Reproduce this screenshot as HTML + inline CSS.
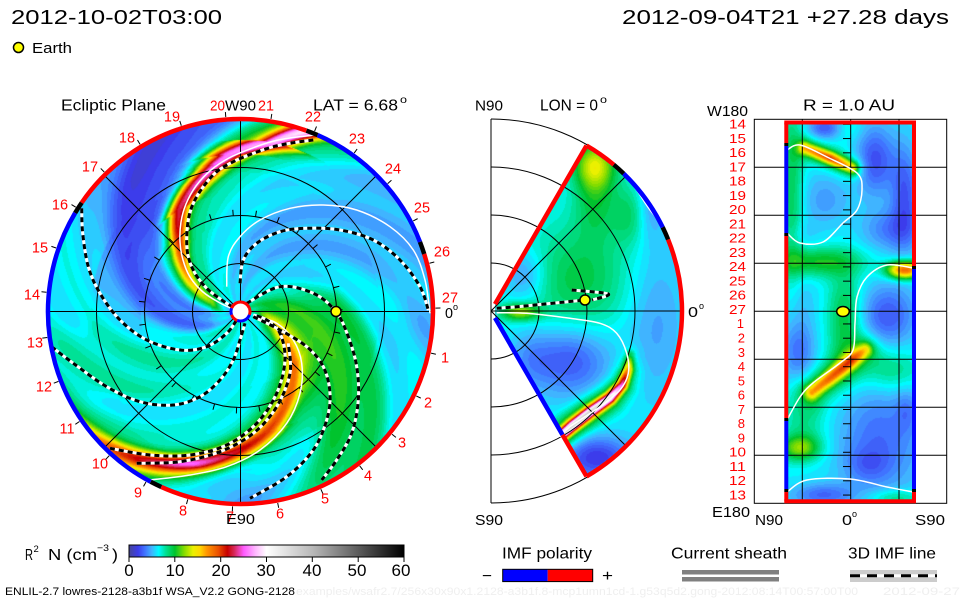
<!DOCTYPE html>
<html><head><meta charset="utf-8">
<style>
html,body{margin:0;padding:0;background:#fff;width:960px;height:600px;overflow:hidden}
.l{position:absolute;left:0;top:0}
text{font-family:"Liberation Sans",sans-serif}
</style></head><body>
<svg class="l" width="960" height="600">
<circle cx="240.5" cy="311.5" r="192" fill="#2ad4f0"/>
<path d="M495,304.1L586.5,145.6A191,191 0 0 1 586.5,476.4L495,317.9Z" fill="#30d8d8"/>
<rect x="786" y="122" width="128" height="380" fill="#30d0d0"/>
</svg>
<canvas class="l" id="cv" width="960" height="600"></canvas>
<svg class="l" id="ov" width="960" height="600">
<defs>
<linearGradient id="cb" x1="0" x2="1" y1="0" y2="0">
<stop offset="0" stop-color="#464696"/><stop offset="0.033" stop-color="#3c3ceb"/><stop offset="0.058" stop-color="#4073ff"/><stop offset="0.083" stop-color="#40b4ff"/><stop offset="0.108" stop-color="#00faff"/><stop offset="0.133" stop-color="#00e196"/><stop offset="0.167" stop-color="#00c32d"/><stop offset="0.2" stop-color="#82dc00"/><stop offset="0.233" stop-color="#ebf000"/><stop offset="0.258" stop-color="#ffd700"/><stop offset="0.283" stop-color="#ff9600"/><stop offset="0.325" stop-color="#eb5000"/><stop offset="0.358" stop-color="#c80000"/><stop offset="0.383" stop-color="#d7285a"/><stop offset="0.417" stop-color="#ff5aff"/><stop offset="0.458" stop-color="#ffb4ff"/><stop offset="0.5" stop-color="#ffffff"/><stop offset="0.667" stop-color="#b8b8b8"/><stop offset="1" stop-color="#000000"/>
</linearGradient>
</defs>
<g id="geo"></g>
<!-- Earth markers -->
<circle cx="336" cy="311.5" r="5" fill="#ffff00" stroke="#000" stroke-width="1.5"/>
<circle cx="585" cy="300" r="5" fill="#ffff00" stroke="#000" stroke-width="1.5"/>
<ellipse cx="843" cy="311.5" rx="6.3" ry="5" fill="#ffff00" stroke="#000" stroke-width="1.5"/>

<!-- headers -->
<text x="11" y="24" font-size="20.5" textLength="211" lengthAdjust="spacingAndGlyphs">2012-10-02T03:00</text>
<text x="622" y="24" font-size="20.5" textLength="327" lengthAdjust="spacingAndGlyphs">2012-09-04T21 +27.28 days</text>
<circle cx="18.5" cy="47.5" r="5" fill="#ffff00" stroke="#000" stroke-width="1.5"/>
<text x="32" y="53" font-size="15" textLength="40" lengthAdjust="spacingAndGlyphs">Earth</text>

<!-- left panel labels -->
<text x="61" y="110.5" font-size="15.5" textLength="105" lengthAdjust="spacingAndGlyphs">Ecliptic Plane</text>
<text x="210" y="110.5" font-size="14.5" fill="#ff0000" textLength="15" lengthAdjust="spacingAndGlyphs">20</text>
<text x="225" y="110.5" font-size="15" textLength="31" lengthAdjust="spacingAndGlyphs">W90</text>
<text x="258" y="110.5" font-size="14.5" fill="#ff0000" textLength="16" lengthAdjust="spacingAndGlyphs">21</text>
<text x="313" y="110.5" font-size="15.5" textLength="85" lengthAdjust="spacingAndGlyphs">LAT = 6.68</text>
<text x="400" y="103" font-size="10" textLength="7" lengthAdjust="spacingAndGlyphs">o</text>
<g font-size="14.5" fill="#ff0000" text-anchor="middle">
<text x="450" y="302.5">27</text><text x="445" y="362.5">1</text><text x="428" y="407.5">2</text><text x="402" y="447.5">3</text><text x="368" y="480.5">4</text><text x="325" y="503.5">5</text><text x="280" y="518.5">6</text><text x="230" y="521.5">7</text><text x="183" y="515.5">8</text><text x="138" y="497.5">9</text><text x="100" y="468.5">10</text><text x="67" y="433.5">11</text><text x="44" y="391.5">12</text><text x="35" y="347.5">13</text><text x="32" y="299.5">14</text><text x="40" y="252.5">15</text><text x="60" y="209.5">16</text><text x="90" y="171.5">17</text><text x="127" y="142.5">18</text><text x="172" y="121.5">19</text><text x="313" y="121.5">22</text><text x="357" y="143.5">23</text><text x="393" y="173.5">24</text><text x="422" y="212.5">25</text><text x="442" y="256.5">26</text>
</g>
<text x="445" y="318" font-size="14.5" textLength="8" lengthAdjust="spacingAndGlyphs">0</text>
<text x="453" y="310" font-size="9">o</text>
<text x="226" y="524" font-size="15" textLength="29" lengthAdjust="spacingAndGlyphs">E90</text>

<!-- middle panel labels -->
<text x="475" y="110.5" font-size="15" textLength="28" lengthAdjust="spacingAndGlyphs">N90</text>
<text x="540" y="110.5" font-size="15.5" textLength="58" lengthAdjust="spacingAndGlyphs">LON = 0</text>
<text x="600" y="103" font-size="10" textLength="7" lengthAdjust="spacingAndGlyphs">o</text>
<text x="688" y="317" font-size="15" textLength="10" lengthAdjust="spacingAndGlyphs">0</text>
<text x="699" y="309" font-size="9">o</text>
<text x="475" y="525" font-size="15" textLength="28" lengthAdjust="spacingAndGlyphs">S90</text>

<!-- right panel labels -->
<text x="803" y="110.5" font-size="15.5" textLength="92" lengthAdjust="spacingAndGlyphs">R = 1.0 AU</text>
<text x="707" y="116" font-size="15" textLength="41" lengthAdjust="spacingAndGlyphs">W180</text>
<text x="712" y="517" font-size="15" textLength="38" lengthAdjust="spacingAndGlyphs">E180</text>
<text x="755" y="525" font-size="15" textLength="28" lengthAdjust="spacingAndGlyphs">N90</text>
<text x="842" y="525" font-size="15" textLength="10" lengthAdjust="spacingAndGlyphs">0</text>
<text x="852" y="517" font-size="9">o</text>
<text x="915" y="525" font-size="15" textLength="30" lengthAdjust="spacingAndGlyphs">S90</text>
<g font-size="13" fill="#ff0000" text-anchor="end">
<text x="746" y="128.6" textLength="17" lengthAdjust="spacingAndGlyphs">14</text>
<text x="746" y="142.9" textLength="17" lengthAdjust="spacingAndGlyphs">15</text>
<text x="746" y="157.1" textLength="17" lengthAdjust="spacingAndGlyphs">16</text>
<text x="746" y="171.4" textLength="17" lengthAdjust="spacingAndGlyphs">17</text>
<text x="746" y="185.6" textLength="17" lengthAdjust="spacingAndGlyphs">18</text>
<text x="746" y="199.9" textLength="17" lengthAdjust="spacingAndGlyphs">19</text>
<text x="746" y="214.2" textLength="17" lengthAdjust="spacingAndGlyphs">20</text>
<text x="746" y="228.4" textLength="17" lengthAdjust="spacingAndGlyphs">21</text>
<text x="746" y="242.7" textLength="17" lengthAdjust="spacingAndGlyphs">22</text>
<text x="746" y="256.9" textLength="17" lengthAdjust="spacingAndGlyphs">23</text>
<text x="746" y="271.2" textLength="17" lengthAdjust="spacingAndGlyphs">24</text>
<text x="746" y="285.5" textLength="17" lengthAdjust="spacingAndGlyphs">25</text>
<text x="746" y="299.7" textLength="17" lengthAdjust="spacingAndGlyphs">26</text>
<text x="746" y="314.0" textLength="17" lengthAdjust="spacingAndGlyphs">27</text>
<text x="744" y="328.2">1</text>
<text x="745" y="342.5">2</text>
<text x="745" y="356.8">3</text>
<text x="745" y="371.0">4</text>
<text x="745" y="385.3">5</text>
<text x="745" y="399.5">6</text>
<text x="745" y="413.8">7</text>
<text x="745" y="428.1">8</text>
<text x="745" y="442.3">9</text>
<text x="746" y="456.6" textLength="17" lengthAdjust="spacingAndGlyphs">10</text>
<text x="746" y="470.8" textLength="17" lengthAdjust="spacingAndGlyphs">11</text>
<text x="746" y="485.1" textLength="17" lengthAdjust="spacingAndGlyphs">12</text>
<text x="746" y="499.4" textLength="17" lengthAdjust="spacingAndGlyphs">13</text>
</g>

<!-- colorbar legend -->
<text x="25" y="560" font-size="16" textLength="8" lengthAdjust="spacingAndGlyphs">R</text>
<text x="33.5" y="552" font-size="9.5">2</text>
<text x="48" y="560" font-size="16" textLength="49" lengthAdjust="spacingAndGlyphs">N (cm</text>
<text x="97" y="551" font-size="9.5" textLength="12" lengthAdjust="spacingAndGlyphs">−3</text>
<text x="112" y="560" font-size="16" textLength="6" lengthAdjust="spacingAndGlyphs">)</text>
<rect x="129" y="545" width="275" height="12" fill="url(#cb)" stroke="#000" stroke-width="1"/>
<g stroke="#000" stroke-width="1">
<line x1="129" y1="557" x2="129" y2="562"/><line x1="174.8" y1="557" x2="174.8" y2="562"/><line x1="220.7" y1="557" x2="220.7" y2="562"/><line x1="266.5" y1="557" x2="266.5" y2="562"/><line x1="312.3" y1="557" x2="312.3" y2="562"/><line x1="358.2" y1="557" x2="358.2" y2="562"/><line x1="404" y1="557" x2="404" y2="562"/>
</g>
<g font-size="17" text-anchor="middle">
<text x="129" y="576">0</text><text x="175" y="576">10</text><text x="221" y="576">20</text><text x="266" y="576">30</text><text x="312" y="576">40</text><text x="357" y="576">50</text><text x="401" y="576">60</text>
</g>
<text x="5" y="595" font-size="11" textLength="290" lengthAdjust="spacingAndGlyphs">ENLIL-2.7 lowres-2128-a3b1f WSA_V2.2 GONG-2128</text>
<text x="296" y="595" font-size="11" fill="#efefef" textLength="562" lengthAdjust="spacingAndGlyphs">examples/wsafr2.7/256x30x90x1.2128-a3b1f.8-mcp1umn1cd-1.g53q5d2.gong-2012:08:14T00:57:00T00</text>
<text x="883" y="595" font-size="11" fill="#efefef" textLength="77" lengthAdjust="spacingAndGlyphs">2012-09-27</text>

<!-- IMF polarity -->
<text x="502" y="558.5" font-size="16" textLength="90" lengthAdjust="spacingAndGlyphs">IMF polarity</text>
<rect x="502.7" y="569.3" width="45" height="12.3" fill="#0000ff"/>
<rect x="547.7" y="569.3" width="45" height="12.3" fill="#ff0000"/>
<rect x="502.7" y="569.3" width="90" height="12.3" fill="none" stroke="#000" stroke-width="1"/>
<text x="482" y="581" font-size="16" textLength="10" lengthAdjust="spacingAndGlyphs">−</text>
<text x="602" y="581" font-size="16" textLength="11" lengthAdjust="spacingAndGlyphs">+</text>

<!-- Current sheath -->
<text x="671" y="558.5" font-size="16" textLength="116" lengthAdjust="spacingAndGlyphs">Current sheath</text>
<rect x="682" y="570" width="97" height="4.5" fill="#808080"/>
<rect x="682" y="577" width="97" height="4.5" fill="#808080"/>

<!-- 3D IMF line -->
<text x="848" y="558.5" font-size="16" textLength="88" lengthAdjust="spacingAndGlyphs">3D IMF line</text>
<rect x="850" y="570" width="87" height="12" fill="#cccccc"/>
<line x1="850" y1="575.8" x2="937" y2="575.8" stroke="#fff" stroke-width="3"/>
<line x1="850" y1="575.8" x2="937" y2="575.8" stroke="#000" stroke-width="3" stroke-dasharray="10 7"/>
</svg>

<script>
(function(){
const ST=[[0,[70,70,150]],[2,[60,60,235]],[3.5,[64,115,255]],[5,[64,180,255]],[6.5,[0,250,255]],[8,[0,225,150]],[10,[0,195,45]],[12,[130,220,0]],[14,[235,240,0]],[15.5,[255,215,0]],[17,[255,150,0]],[19.5,[235,80,0]],[21.5,[200,0,0]],[23,[215,40,90]],[25,[255,90,255]],[27.5,[255,180,255]],[30,[255,255,255]],[40,[184,184,184]],[60,[0,0,0]]];
const LUT=[];
for(let q=0;q<=120;q++){const v=q/2;let c=ST[ST.length-1][1];for(let i=1;i<ST.length;i++){if(v<=ST[i][0]){const a=ST[i-1],b=ST[i],t=(v-a[0])/(b[0]-a[0]);c=[0,1,2].map(k=>Math.round(a[1][k]+t*(b[1][k]-a[1][k])));break;}}LUT.push(c);}
const cv=document.getElementById('cv'),ctx=cv.getContext('2d');
const im=ctx.createImageData(960,600),D=im.data;
function put(x,y,v){const i=(y*960+x)*4;let q=Math.round(v*2);q=q<0?0:(q>120?120:q);const c=LUT[q];D[i]=c[0];D[i+1]=c[1];D[i+2]=c[2];D[i+3]=255;}
function ln(n,r,k){if(r<=n[0][0])return n[0][k];for(let i=1;i<n.length;i++){if(r<=n[i][0]){const t=(r-n[i-1][0])/(n[i][0]-n[i-1][0]);return n[i-1][k]+t*(n[i][k]-n[i-1][k]);}}return n[n.length-1][k];}
const DR=Math.PI/180;
function spiral(b,r,th){const n=b.n;const amp=ln(n,r,2);if(amp===0)return 0;const tc=ln(n,r,1),w=ln(n,r,3);const tc2=ln(n,r+1,1);const sl=(tc2-tc)*DR;let d=th-tc;d=((d%360)+540)%360-180;const s=r*d*DR/Math.sqrt(1+(r*sl)*(r*sl));const q=Math.abs(s/w);if(q>4)return 0;return amp*Math.exp(-Math.pow(q,b.p));}
function blob(b,x,y){const dx=(x-b[0])/b[3],dy=(y-b[1])/b[4];return b[2]*Math.exp(-0.5*(dx*dx+dy*dy));}
function pl(b,x,y){let best=1e18,ba=0;const p=b.pts,a=b.a;for(let i=0;i<p.length-1;i++){const x0=p[i][0],y0=p[i][1],dx=p[i+1][0]-x0,dy=p[i+1][1]-y0;let t=((x-x0)*dx+(y-y0)*dy)/(dx*dx+dy*dy);t=t<0?0:(t>1?1:t);const ex=x0+t*dx-x,ey=y0+t*dy-y,d=ex*ex+ey*ey;if(d<best){best=d;ba=a[i]+t*(a[i+1]-a[i]);}}return ba*Math.exp(-best/(b.w*b.w));}

// LEFT
const LX=240.5,LY=311.5;
const LS=[
 {p:4,n:[[10,200,-1.5,8],[50,185,-3.0,15],[100,163,-3.2,28],[150,132,-3.3,42],[195,112,-3.3,50]]},
 {p:2,n:[[100,160,0,10],[130,140,-1.2,15],[170,122,-1.5,18],[195,110,-1.5,18]]},
 {p:2,n:[[12,190,0,4],[30,160,4,5],[59,148,7,6],[88,133,10,8],[119,121,13,9],[140,105,15,9],[158,93,16,9],[172,79,18,9],[196,68,20,9]]},
 {p:2,n:[[12,190,0,12],[30,160,2,14],[88,133,3.5,20],[140,105,4,20],[196,68,4,20]]},
 {p:2,n:[[15,-5,0,4],[30,-20,4,6],[44,-29,6,7],[76,-46,9,8],[100,-62,9.5,9],[124,-78,11,9],[142,-93,13,9],[160,-108,15.5,9],[179,-124,12,10],[195,-138,9,11]]},
 {p:2,n:[[15,-5,0,10],[30,-20,2,14],[76,-46,3.5,22],[160,-108,3.5,22],[195,-138,3.5,22]]},
 {p:4,n:[[10,20,2,6],[50,-5,3.8,22],[96,-18,4,42],[140,-38,3.6,38],[195,-58,2.8,32]]},
 {p:4,n:[[20,90,-0.6,10],[80,60,-1.3,35],[140,38,-1.4,50],[195,25,-1.4,60]]},
 {p:4,n:[[40,235,0.8,15],[100,215,1.3,30],[150,200,1.3,35],[195,195,1.0,35]]}
];
const LBp=[[185,-5,-1.2,22],[178,-92,-1.8,28]];
const LB=LBp.map(b=>[LX+b[0]*Math.cos(b[1]*DR),LY-b[0]*Math.sin(b[1]*DR),b[2],b[3],b[3]]);
for(let y=116;y<508;y++)for(let x=46;x<436;x++){const px=x+0.5-LX,py=LY-(y+0.5);const r=Math.hypot(px,py);if(r>192)continue;const th=Math.atan2(py,px)/DR;let v=6.3;for(const b of LS)v+=spiral(b,r,th);for(const b of LB)v+=blob(b,x+0.5,y+0.5);v+=0.5*Math.sin((th+0.55*r)*DR*14);put(x,y,v);}

// MIDDLE
const MX=491,MY=311;
const MB=[[578,280,3.2,38,40],[595,195,3,15,30],[595,165,6,14,16],[630,214,2.5,13,22],[520,312,6,14,6],[525,275,-2.5,15,18],[570,360,-3.8,28,25],[530,357,-1.5,15,20],[655,320,-1.8,22,55],[597,458,-4.5,25,15],[650,205,-2,10,25]];
const mpts=[[556,440],[572,426],[590,412],[610,398],[622,385],[628,370],[630,355]];
const MP=[{w:5,pts:mpts,a:[20,23,23,21,15,9,3]},{w:13,pts:mpts,a:[6,7,7,6,4.5,3,1]}];
for(let y=112;y<512;y++)for(let x=491;x<684;x++){const px=x+0.5-MX,py=MY-(y+0.5);const r=Math.hypot(px,py);if(r<8||r>189)continue;const th=Math.atan2(py,px)/DR;if(Math.abs(th)>60)continue;let v=6.3;for(const b of MB)v+=blob(b,x+0.5,y+0.5);for(const b of MP)v+=pl(b,x+0.5,y+0.5);put(x,y,v);}

// RIGHT
const RB=[[792,190,3,8,70],[825,128,-3.5,12,8],[875,160,-3.8,14,25],[905,195,-3.5,10,35],[825,200,-1.8,18,20],[890,230,-2.5,20,15],[818,262,4,30,10],[905,270,13,12,6],[888,315,-3.5,20,22],[800,300,-1,12,20],[798,350,-3,12,22],[845,320,3.5,12,35],[890,370,2.5,22,15],[880,440,-3,30,40],[867,465,-1.5,15,12],[907,410,-1.5,8,15],[800,448,5.5,14,9],[805,420,2,15,20],[822,495,-3,22,8],[895,498,2.5,18,6],[848,128,1,10,10],[800,235,-1,10,10]];
const r1=[[805,148],[830,158],[852,168]],r2=[[812,392],[830,378],[852,360],[865,350]];
const RP=[{w:6,pts:r1,a:[7,11,7]},{w:12,pts:r1,a:[3,3,3]},{w:7,pts:r2,a:[7,9,9,6]},{w:16,pts:r2,a:[3.5,3.5,3.5,3]}];
for(let y=122;y<502;y++)for(let x=786;x<914;x++){let v=6.3;for(const b of RB)v+=blob(b,x+0.5,y+0.5);for(const b of RP)v+=pl(b,x+0.5,y+0.5);put(x,y,v);}
ctx.putImageData(im,0,0);

// GEOMETRY
let g='';
const F=v=>v.toFixed(2);
const P=(cx,cy,r,a)=>[cx+r*Math.cos(a*DR),cy-r*Math.sin(a*DR)];
function L(x1,y1,x2,y2,c,w){g+=`<line x1="${F(x1)}" y1="${F(y1)}" x2="${F(x2)}" y2="${F(y2)}" stroke="${c}" stroke-width="${w}"/>`;}
function A(cx,cy,r,a0,a1,c,w){const p0=P(cx,cy,r,a0),p1=P(cx,cy,r,a1);const lg=(a1-a0)>180?1:0;g+=`<path d="M${F(p0[0])},${F(p0[1])}A${r},${r} 0 ${lg} 0 ${F(p1[0])},${F(p1[1])}" stroke="${c}" stroke-width="${w}" fill="none"/>`;}
function C(cx,cy,r,c,w){g+=`<circle cx="${cx}" cy="${cy}" r="${r}" fill="none" stroke="${c}" stroke-width="${w}"/>`;}
function sm(p){let d=`M${p[0][0]},${p[0][1]}`;for(let i=0;i<p.length-1;i++){const p0=p[i-1]||p[i],p1=p[i],p2=p[i+1],p3=p[i+2]||p2;const c1=[p1[0]+(p2[0]-p0[0])/6,p1[1]+(p2[1]-p0[1])/6],c2=[p2[0]-(p3[0]-p1[0])/6,p2[1]-(p3[1]-p1[1])/6];d+=`C${F(c1[0])},${F(c1[1])} ${F(c2[0])},${F(c2[1])} ${p2[0]},${p2[1]}`;}return d;}
function dash(p,w){w=w||3;const d=sm(p);g+=`<path d="${d}" fill="none" stroke="#fff" stroke-width="${w}"/><path d="${d}" fill="none" stroke="#000" stroke-width="${w}" stroke-dasharray="5 4"/>`;}
function wl(p){g+=`<path d="${sm(p)}" fill="none" stroke="#fff" stroke-width="1.5"/>`;}

// left grid
[48,96,144].forEach(r=>C(LX,LY,r,'#000',1));
L(LX-192,LY,LX+192,LY,'#000',1);L(LX,LY-192,LX,LY+192,'#000',1);
const dg=192*Math.SQRT1_2;
L(LX-dg,LY-dg,LX+dg,LY+dg,'#000',1);L(LX-dg,LY+dg,LX+dg,LY-dg,'#000',1);
for(let n=0;n<27;n++){const a=1-13.3333*n;const p0=P(LX,LY,96,a),p1=P(LX,LY,102,a);L(p0[0],p0[1],p1[0],p1[1],'#000',1);const q0=P(LX,LY,195,a),q1=P(LX,LY,200,a);L(q0[0],q0[1],q1[0],q1[1],'#000',1);}
// left white lines
wl([[226.7,286.7],[228.3,256.7],[240,236.7],[260,220],[290,208.3],[323.3,205],[356.7,210],[390,226.7],[413.3,250],[425,280],[430,313.3]]);
wl([[315,135],[293,137.5],[272,141.5],[250,149],[229,158],[211,170],[196,186],[186,204],[181,222],[180,242],[183,260],[190,277],[203,292],[220,303],[233,309]]);
wl([[150,480],[190,475],[226.7,466.7],[260,450],[286.7,423.3],[300,393.3],[301.7,363.3],[293.3,340],[276.7,323.3],[253.3,315]]);
// left dashed lines
dash([[313.3,140],[293.3,142.7],[273.3,146.7],[253.3,153.3],[233.3,161.7],[216.7,171.7],[203.3,186.7],[193.3,203.3],[188.3,220],[186.7,240],[188.3,256.7],[195,273.3],[206.7,288.3],[221.7,300],[233.3,307.3]]);
dash([[81.7,208.3],[82.7,233.3],[88.3,266.7],[100,293.3],[120,320],[146.7,340],[180,350],[206.7,346.7],[226.7,333.3],[236.7,320]]);
dash([[51.7,346.7],[73.3,363.3],[106.7,386.7],[140,401.7],[173.3,405],[200,396.7],[220,380],[233.3,360],[240,340],[245,323.3]]);
dash([[110,448.3],[150,455],[190,455],[226.7,445],[256.7,423.3],[276.7,393.3],[285,360],[280,333.3],[266.7,320],[253.3,315]]);
dash([[136.7,463.3],[180,461.7],[220,451.7],[253.3,433.3],[276.7,406.7],[290,373.3],[288.3,343.3]]);
dash([[246.7,303.3],[280,286.7],[313.3,293.3],[336,311.7],[348.3,336.7],[356.7,366.7],[358.3,400],[351.7,433.3],[336.7,460],[321.7,480]]);
dash([[253.3,316.7],[280,330],[306.7,346.7],[323.3,366.7],[330,393.3],[326.7,420],[313.3,450],[286.7,476.7],[250,498.3]]);
dash([[240,283.3],[243.3,260],[256.7,243.3],[280,231.7],[306.7,228.3],[340,230],[373.3,240],[400,260],[420,286.7],[428.3,310]]);
// left ring
const RR=192.5,RW=4.5;
A(LX,LY,RR,21.2,66.4,'#0000ff',RW);A(LX,LY,RR,66.4,70,'#000',RW);A(LX,LY,RR,70,145.6,'#ff0000',RW);A(LX,LY,RR,145.6,149.2,'#000',RW);A(LX,LY,RR,149.2,242.2,'#0000ff',RW);A(LX,LY,RR,242.2,245.7,'#000',RW);A(LX,LY,RR,245.7,377.4,'#ff0000',RW);A(LX,LY,RR,17.4,21.2,'#000',RW);
// center marker
g+=`<circle cx="${LX}" cy="${LY}" r="8.5" fill="#fff"/>`;
A(LX,LY,9.5,20,160,'#ff0000',3);A(LX,LY,9.5,160,200,'#0000ff',3);A(LX,LY,9.5,200,250,'#ff0000',3);A(LX,LY,9.5,250,340,'#0000ff',3);A(LX,LY,9.5,340,380,'#ff0000',3);

// middle grid
[48,96,144,192].forEach(r=>A(MX,MY,r,-90,90,'#000',1));
L(MX,119,MX,503,'#000',1);L(MX,MY,MX+192,MY,'#000',1);
L(MX,MY,MX+dg,MY-dg,'#000',1);L(MX,MY,MX+dg,MY+dg,'#000',1);
wl([[496.7,312.7],[526.7,313.3],[570,318.3],[600,323.3],[616.7,333.3],[626.7,353.3],[628.3,373.3],[620,390],[600,406.7],[570,426.7],[560,436.7]]);
wl([[623.3,171.7],[636.7,190],[650,210],[663.3,225]]);
dash([[496.7,308.3],[520,306.5],[550,303.5],[585,300]]);
dash([[571.7,290],[608.3,294],[592,300]]);
// middle wedge border
const MR=191,MW=4.5;
A(MX,MY,MR,-60,22,'#ff0000',MW);A(MX,MY,MR,22,26,'#000',MW);A(MX,MY,MR,26,46,'#0000ff',MW);A(MX,MY,MR,46,50,'#000',MW);A(MX,MY,MR,50,60,'#ff0000',MW);
let a=P(MX,MY,8,60),b=P(MX,MY,MR,60);L(a[0],a[1],b[0],b[1],'#ff0000',MW);
a=P(MX,MY,8,-60);b=P(MX,MY,143,-60);L(a[0],a[1],b[0],b[1],'#0000ff',MW);
a=P(MX,MY,143,-60);b=P(MX,MY,MR,-60);L(a[0],a[1],b[0],b[1],'#ff0000',MW);

// right grid
g+=`<rect x="754.3" y="119.3" width="192.4" height="384" fill="none" stroke="#000" stroke-width="1"/>`;
[802.3,850.7,899].forEach(x=>L(x,119.3,x,503.3,'#000',1));
for(let k=0;k<7;k++){const y=167.3+48*k;L(754.3,y,946.7,y,'#000',1);}
for(let i=0;i<27;i++){const y=124.3+14.26*i;L(843,y,851,y,'#000',1);}
wl([[787,150],[800,145],[827,157],[857,173],[862,190],[857,210],[843,223],[823,242],[800,243],[787,233]]);
wl([[913,268],[887,265],[867,277],[857,297],[855,323],[853,350],[840,363],[813,383],[800,397],[787,420]]);
wl([[787,492],[807,480],[850,479],[887,487],[913,492]]);
// right border
const BW=4;
L(784.3,122.5,916,122.5,'#ff0000',BW);L(784.3,501.3,916,501.3,'#ff0000',BW);
const lx=786.3;
L(lx,122.5,lx,143,'#ff0000',BW);L(lx,143,lx,146,'#000',BW);L(lx,146,lx,233,'#0000ff',BW);L(lx,233,lx,236,'#000',BW);L(lx,236,lx,418,'#ff0000',BW);L(lx,418,lx,421,'#000',BW);L(lx,421,lx,489,'#0000ff',BW);L(lx,489,lx,492,'#000',BW);L(lx,492,lx,501.3,'#ff0000',BW);
const rx=914;
L(rx,122.5,rx,266,'#ff0000',BW);L(rx,266,rx,269,'#000',BW);L(rx,269,rx,489,'#0000ff',BW);L(rx,489,rx,492,'#000',BW);L(rx,492,rx,501.3,'#ff0000',BW);

document.getElementById('geo').innerHTML=g;
})();
</script>
</body></html>
